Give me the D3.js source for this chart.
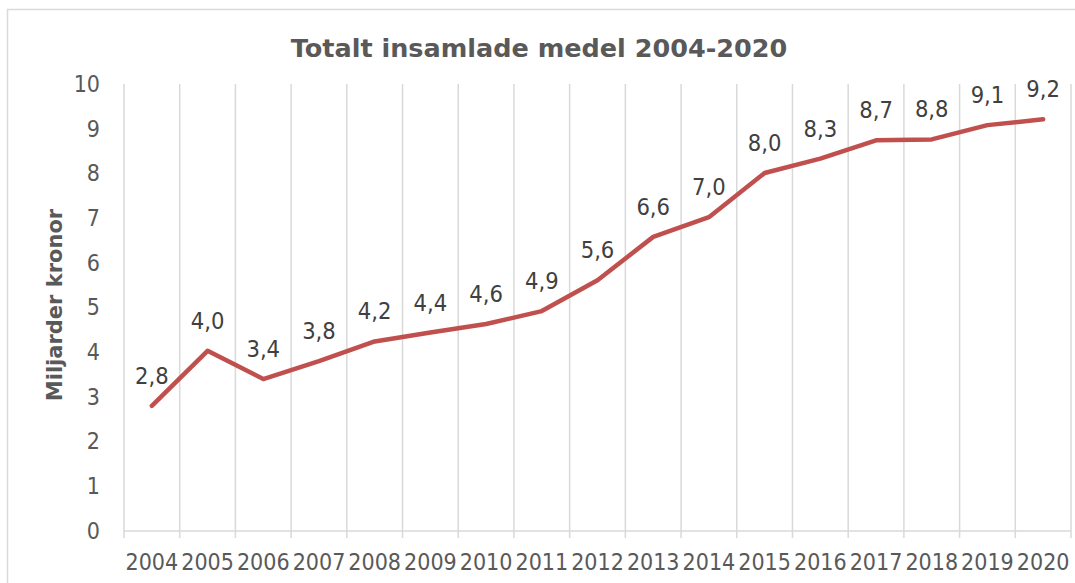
<!DOCTYPE html>
<html>
<head>
<meta charset="utf-8">
<script src="https://cdnjs.cloudflare.com/ajax/libs/d3/7.8.5/d3.min.js"></script>
<style>
  body { margin: 0; background: #fff; }
  svg { display: block; }
  .tick text { font-family: "DejaVu Sans Condensed", "DejaVu Sans", sans-serif; font-size: 23px; fill: #595959; }
</style>
</head>
<body>
<script>
const WIDTH = 1075;
const HEIGHT = 583;
const LEFT = 124, RIGHT = 1071, TOP = 84, BOTTOM = 531;

var years = ["2004","2005","2006","2007","2008","2009","2010","2011","2012",
             "2013","2014","2015","2016","2017","2018","2019","2020"];
var values = [2.8, 4.03, 3.4, 3.8, 4.24, 4.44, 4.63, 4.92, 5.61,
              6.58, 7.02, 8.01, 8.33, 8.74, 8.76, 9.08, 9.21];
var yTicks = [0,1,2,3,4,5,6,7,8,9,10];

var svg = d3.select('body').append('svg')
  .attr('width', WIDTH)
  .attr('height', HEIGHT);

// outer frame
svg.append('rect')
  .attr('x', 7.5).attr('y', 9.5)
  .attr('width', WIDTH).attr('height', HEIGHT)
  .attr('fill', 'none')
  .attr('stroke', '#d9d9d9')
  .attr('stroke-width', 1.5);

var xScale = d3.scaleBand().domain(years).range([LEFT, RIGHT]).padding(0);
var yScale = d3.scaleLinear().domain([0,10]).range([BOTTOM, TOP]);

// vertical gridlines at category borders
var borders = years.map(function(d){ return xScale(d); }).concat([RIGHT]);
svg.append('g').selectAll('line')
  .data(borders)
  .enter().append('line')
  .attr('x1', function(d){ return d; })
  .attr('x2', function(d){ return d; })
  .attr('y1', TOP)
  .attr('y2', BOTTOM + 7)
  .attr('stroke', '#d9d9d9')
  .attr('stroke-width', 1.5);

// x axis line
svg.append('line')
  .attr('x1', LEFT).attr('x2', RIGHT)
  .attr('y1', BOTTOM).attr('y2', BOTTOM)
  .attr('stroke', '#d9d9d9')
  .attr('stroke-width', 1.5);

var xAxis = d3.axisBottom(xScale).tickSize(0).tickPadding(23);
svg.append('g')
  .attr('transform', 'translate(0,' + BOTTOM + ')')
  .call(xAxis)
  .call(function(g){ g.select('.domain').remove(); });

var yAxis = d3.axisLeft(yScale).tickValues(yTicks).tickSize(0).tickPadding(24);
svg.append('g')
  .attr('transform', 'translate(' + LEFT + ',0)')
  .call(yAxis)
  .call(function(g){ g.select('.domain').remove(); });

// title
svg.append('text')
  .attr('x', 539).attr('y', 57)
  .attr('text-anchor', 'middle')
  .style('font-family', '"DejaVu Sans", sans-serif')
  .style('font-weight', 'bold')
  .style('font-size', '25.5px')
  .style('fill', '#595959')
  .text('Totalt insamlade medel 2004-2020');

// y axis title
svg.append('text')
  .attr('transform', 'translate(62,305) rotate(-90)')
  .attr('text-anchor', 'middle')
  .style('font-family', '"DejaVu Sans", sans-serif')
  .style('font-weight', 'bold')
  .style('font-size', '21px')
  .style('fill', '#595959')
  .text('Miljarder kronor');

var cx = function(d, i){ return xScale(years[i]) + xScale.bandwidth() / 2; };

var line = d3.line()
  .x(function(d, i){ return cx(d, i); })
  .y(function(d){ return yScale(d); });

svg.append('path')
  .datum(values)
  .attr('d', line)
  .attr('fill', 'none')
  .attr('stroke', '#c0504d')
  .attr('stroke-width', 4.5)
  .attr('stroke-linejoin', 'round')
  .attr('stroke-linecap', 'round');

svg.append('g').selectAll('text')
  .data(values)
  .enter().append('text')
  .attr('x', function(d, i){ return cx(d, i); })
  .attr('y', function(d){ return yScale(d) - 22; })
  .attr('text-anchor', 'middle')
  .style('font-family', '"DejaVu Sans Condensed", "DejaVu Sans", sans-serif')
  .style('font-size', '23.5px')
  .style('fill', '#404040')
  .text(function(d){ return d.toFixed(1).replace('.', ','); });
</script>
</body>
</html>
